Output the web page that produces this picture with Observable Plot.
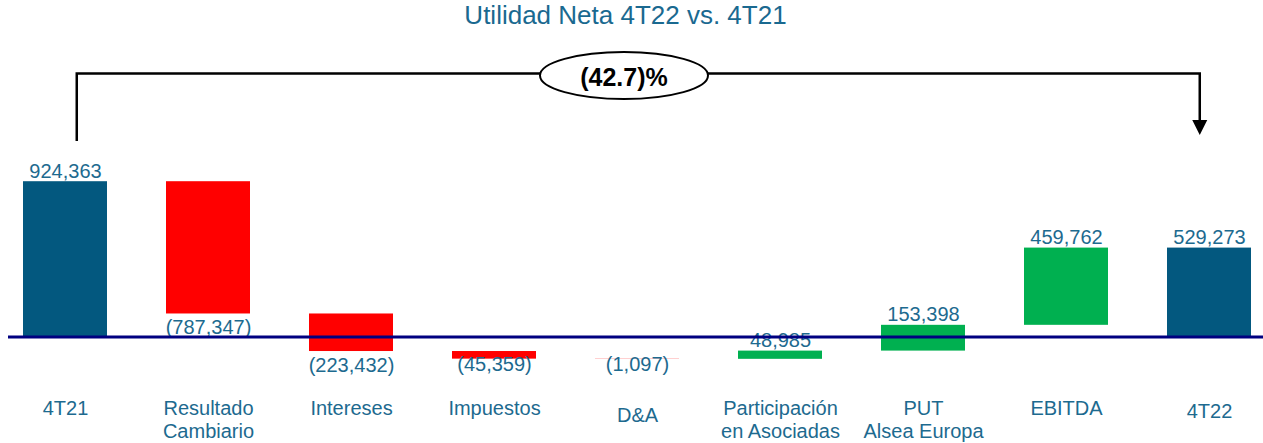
<!DOCTYPE html>
<html>
<head>
<meta charset="utf-8">
<script src="https://cdn.jsdelivr.net/npm/d3@7"></script>
<script src="https://cdn.jsdelivr.net/npm/@observablehq/plot@0.6"></script>
<style>
  html, body { margin: 0; padding: 0; background: #fff; }
  #title { height: 40px; line-height: 36px; font: 26px "Liberation Sans", Arial, sans-serif; color: #1a6990; text-align: center; padding-right: 12px; box-sizing: border-box; width: 1263px; }
  #chart svg { display: block; }
</style>
</head>
<body>
<div id="title">Utilidad Neta 4T22 vs. 4T21</div>
<div id="chart"></div>
<script>
// ---- data ----
const categories = ["4T21", "Resultado\nCambiario", "Intereses", "Impuestos", "D&A", "Participación\nen Asociadas", "PUT\nAlsea Europa", "EBITDA", "4T22"];
const values = [924363, -787347, -223432, -45359, -1097, 48985, 153398, 459762, 529273];
const kinds = ["total", "delta", "delta", "delta", "delta", "delta", "delta", "delta", "total"];

// ---- build waterfall table ----
let running = 0;
const rows = categories.map((cat, i) => {
  const v = values[i];
  let y1, y2;
  if (kinds[i] === "total") { y1 = 0; y2 = v; running = v; }
  else { y1 = running; y2 = running + v; running = y2; }
  const type = kinds[i] === "total" ? "total" : (v < 0 ? "neg" : "pos");
  return {cat, value: v, y1, y2, type, top: Math.max(y1, y2), bottom: Math.min(y1, y2),
          label: v < 0 ? `(${d3.format(",")(-v)})` : d3.format(",")(v)};
});

const textColor = "#1d6a8f";
const font = "Liberation Sans, Arial, sans-serif";

const plot = Plot.plot({
  width: 1263,
  height: 403,
  marginLeft: 8,
  marginRight: 0,
  marginTop: 0,
  marginBottom: 0,
  style: {fontFamily: font, background: "white", overflow: "visible"},
  x: {type: "band", domain: categories, range: [22, 1252], paddingInner: 0.414, paddingOuter: 0, axis: null},
  y: {domain: [0, 1000000], range: [296.5, 128.5], axis: null},
  color: {domain: ["total", "neg", "pos"], range: ["#03587f", "#ff0000", "#00b050"]},
  marks: [
    Plot.barY(rows, {x: "cat", y1: "y1", y2: "y2", fill: "type"}),
    // positive / total labels above bar
    Plot.text(rows.filter(d => d.value >= 0), {x: "cat", y: "top", text: "label", dy: -10.4, fontSize: 20, fill: textColor}),
    // negative labels below bar
    Plot.text(rows.filter(d => d.value < 0 && Math.abs(d.value) >= 100000), {x: "cat", y: "bottom", text: "label", dy: 13.6, fontSize: 20, fill: textColor}),
    Plot.text(rows.filter(d => d.value < 0 && Math.abs(d.value) < 100000), {x: "cat", y: "bottom", text: "label", dy: 5.6, fontSize: 20, fill: textColor}),
    // category labels
    Plot.text(categories.filter(c => c !== "D&A" && c !== "4T22"), {x: d => d, text: d => d, frameAnchor: "bottom", lineAnchor: "top", dy: -44.2, fontSize: 20, lineHeight: 1.12, fill: textColor}),
    Plot.text(["D&A"], {x: d => d, text: d => d, frameAnchor: "bottom", lineAnchor: "top", dy: -36.2, fontSize: 20, fill: textColor}),
    Plot.text(["4T22"], {x: d => d, text: d => d, frameAnchor: "bottom", lineAnchor: "top", dy: -40.2, fontSize: 20, fill: textColor}),
    // baseline
    Plot.ruleY([0], {stroke: "#000080", strokeWidth: 3})
  ]
});

document.getElementById("chart").appendChild(plot);

// ---- bracket annotation with change percentage ----
const sx = plot.scale("x");
const bw = sx.bandwidth;
const lx = sx.apply(categories[0]) + 0.64 * bw;
const rx = sx.apply(categories[categories.length - 1]) + 0.39 * bw;
const topY = 33.5, leftBottom = 101, headTop = 80, headTip = 95;
const change = (values[values.length - 1] / values[0] - 1) * 100;
const changeLabel = change < 0 ? `(${Math.abs(change).toFixed(1)})%` : `${change.toFixed(1)}%`;

const g = d3.select(plot).append("g");
g.append("path")
  .attr("d", `M${lx},${leftBottom}V${topY}H${rx}V${headTop + 2}`)
  .attr("fill", "none").attr("stroke", "black").attr("stroke-width", 2.5);
g.append("path")
  .attr("d", `M${rx - 7.5},${headTop}L${rx + 7.5},${headTop}L${rx},${headTip}Z`)
  .attr("fill", "black");
const cx = 624, cy = 35.5;
g.append("ellipse").attr("cx", cx).attr("cy", cy).attr("rx", 84).attr("ry", 23.5)
  .attr("fill", "white").attr("stroke", "black").attr("stroke-width", 2);
g.append("text").attr("x", cx).attr("y", 45.5).attr("text-anchor", "middle")
  .attr("font-family", font).attr("font-weight", "bold").attr("font-size", 25)
  .attr("fill", "black").text(changeLabel);
</script>
</body>
</html>
